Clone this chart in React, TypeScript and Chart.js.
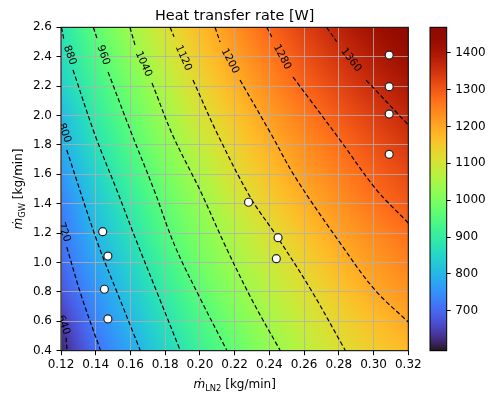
import React, { useEffect, useRef } from 'react';
import { Chart, registerables } from 'chart.js';
Chart.register(...registerables);

// ---------- data ----------
const X_TICKS = [0.12, 0.14, 0.16, 0.18, 0.2, 0.22, 0.24, 0.26, 0.28, 0.3, 0.32];
const Y_TICKS = [0.4, 0.6, 0.8, 1.0, 1.2, 1.4, 1.6, 1.8, 2.0, 2.2, 2.4, 2.6];
const CB_TICKS = [700, 800, 900, 1000, 1100, 1200, 1300, 1400];
const V_MIN = 592;
const V_MAX = 1469;

// heat field read at grid nodes (x = X_TICKS), one row per y in Y_TICKS
const Q_Y040 = [615, 708, 780, 850, 914, 971, 1024, 1069, 1112, 1144, 1174];
const Q_Y060 = [640, 732, 804, 873, 938, 995, 1047, 1090, 1131, 1166, 1201];
const Q_Y080 = [675, 754, 827, 897, 964, 1019, 1067, 1111, 1154, 1196, 1226];
const Q_Y100 = [700, 779, 851, 923, 988, 1044, 1089, 1135, 1180, 1216, 1247];
const Q_Y120 = [712, 803, 874, 949, 1008, 1062, 1113, 1161, 1205, 1238, 1271];
const Q_Y140 = [728, 824, 898, 970, 1029, 1089, 1142, 1188, 1228, 1266, 1298];
const Q_Y160 = [758, 847, 923, 991, 1054, 1115, 1166, 1212, 1250, 1287, 1318];
const Q_Y180 = [788, 872, 948, 1016, 1080, 1137, 1188, 1232, 1274, 1309, 1342];
const Q_Y200 = [804, 896, 971, 1040, 1104, 1160, 1212, 1257, 1298, 1333, 1368];
const Q_Y220 = [840, 920, 994, 1063, 1127, 1185, 1237, 1285, 1323, 1362, 1396];
const Q_Y240 = [860, 943, 1019, 1087, 1150, 1209, 1261, 1307, 1349, 1388, 1426];
const Q_Y260 = [877, 965, 1041, 1110, 1173, 1230, 1283, 1330, 1375, 1417, 1462];
const HEAT_ROWS = [Q_Y040, Q_Y060, Q_Y080, Q_Y100, Q_Y120, Q_Y140, Q_Y160, Q_Y180, Q_Y200, Q_Y220, Q_Y240, Q_Y260];

// contour levels and their traced paths ([x, y]; null = gap for the inline label)
const LEVELS = [640, 720, 800, 880, 960, 1040, 1120, 1200, 1280, 1360];
const C640 = [[0.1229, 0.489], [0.1235, 0.4]];
const C720 = [[0.1233, 1.105], [0.1321, 0.759], [0.1428, 0.4]];
const C800 = [[0.1233, 1.765], [0.1415, 1.119], [0.1522, 0.8], [0.1657, 0.4]];
const C880 = [[0.1203, 2.6], [0.1217, 2.514], null, [0.1269, 2.31], [0.1396, 1.867], [0.1521, 1.493], [0.1632, 1.153], [0.1759, 0.779], [0.1887, 0.4]];
const C960 = [[0.1386, 2.6], [0.1407, 2.527], null, [0.1471, 2.296], [0.1603, 1.888], [0.1736, 1.493], [0.1856, 1.112], [0.2006, 0.745], [0.2156, 0.4]];
const C1040 = [[0.1597, 2.6], [0.1626, 2.48], null, [0.1724, 2.221], [0.1845, 1.861], [0.2, 1.493], [0.2144, 1.119], [0.23, 0.745], [0.2463, 0.4]];
const C1120 = [[0.1828, 2.6], [0.1851, 2.536], null, [0.196, 2.241], [0.2104, 1.867], [0.2292, 1.44], [0.2446, 1.173], [0.264, 0.813], [0.2838, 0.4]];
const C1200 = [[0.2087, 2.6], [0.2116, 2.5], null, [0.2231, 2.241], [0.2413, 1.867], [0.2548, 1.582], [0.2807, 1.133], [0.3008, 0.813], [0.32, 0.595]];
const C1280 = [[0.2385, 2.6], [0.2414, 2.534], null, [0.2536, 2.262], [0.2807, 1.833], [0.3018, 1.493], [0.32, 1.269]];
const C1360 = [[0.273, 2.6], [0.2788, 2.502], null, [0.2957, 2.241], [0.32, 1.936]];
const CONTOURS = [C640, C720, C800, C880, C960, C1040, C1120, C1200, C1280, C1360];
const LABEL_X = [0.1214, 0.1217, 0.122, 0.125, 0.1443, 0.1675, 0.1905, 0.2173, 0.2473, 0.287];
const LABEL_Y = [0.575, 1.206, 1.881, 2.41, 2.411, 2.35, 2.391, 2.371, 2.398, 2.378];

// measured operating points
const RUN_X = [0.144, 0.147, 0.145, 0.147, 0.228, 0.245, 0.244, 0.309, 0.309, 0.309, 0.309];
const RUN_Y = [1.21, 1.044, 0.818, 0.616, 1.41, 1.169, 1.026, 2.411, 2.196, 2.01, 1.736];

const TITLE = 'Heat transfer rate [W]';
type Part = { t: string; italic?: boolean; sub?: boolean };
const X_TITLE: Part[] = [{ t: 'ṁ', italic: true }, { t: 'LN2', sub: true }, { t: ' [kg/min]' }];
const Y_TITLE: Part[] = [{ t: 'ṁ', italic: true }, { t: 'GW', sub: true }, { t: ' [kg/min]' }];

const FONT = '"DejaVu Sans"';

// ---------- helpers ----------
function turbo(t: number): [number, number, number] {
  t = Math.max(0, Math.min(1, t));
  const r = 0.13572138 + t * (4.6153926 + t * (-42.66032258 + t * (132.13108234 + t * (-152.94239396 + t * 59.28637943))));
  const g = 0.09140261 + t * (2.19418839 + t * (4.84296658 + t * (-14.18503333 + t * (4.27729857 + t * 2.82956604))));
  const b = 0.1066733 + t * (12.64194608 + t * (-60.58204836 + t * (110.36276771 + t * (-89.90310912 + t * 27.34824973))));
  const c = (v: number) => Math.max(0, Math.min(255, Math.round(v * 255)));
  return [c(r), c(g), c(b)];
}

function heatAt(vx: number, vy: number): number {
  const nx = X_TICKS.length, ny = Y_TICKS.length;
  const sx = X_TICKS[1] - X_TICKS[0], sy = Y_TICKS[1] - Y_TICKS[0];
  let fx = (vx - X_TICKS[0]) / sx; fx = Math.max(0, Math.min(nx - 1, fx));
  let fy = (vy - Y_TICKS[0]) / sy; fy = Math.max(0, Math.min(ny - 1, fy));
  const i0 = Math.min(nx - 2, Math.floor(fx)), j0 = Math.min(ny - 2, Math.floor(fy));
  const tx = fx - i0, ty = fy - j0;
  const a = HEAT_ROWS[j0][i0], b = HEAT_ROWS[j0][i0 + 1];
  const c = HEAT_ROWS[j0 + 1][i0], d = HEAT_ROWS[j0 + 1][i0 + 1];
  return (a * (1 - tx) + b * tx) * (1 - ty) + (c * (1 - tx) + d * tx) * ty;
}

function drawRich(ctx: CanvasRenderingContext2D, parts: Part[], size: number, x: number, y: number, rot: number) {
  ctx.save();
  ctx.translate(x, y);
  ctx.rotate(rot);
  const fonts = parts.map(p => `${p.italic ? 'italic ' : ''}${p.sub ? size * 0.7 : size}px ${FONT}`);
  let w = 0;
  const ws = parts.map((p, i) => { ctx.font = fonts[i]; const m = ctx.measureText(p.t).width; w += m; return m; });
  let cx = -w / 2;
  ctx.textBaseline = 'alphabetic';
  ctx.textAlign = 'left';
  ctx.fillStyle = '#000';
  parts.forEach((p, i) => { ctx.font = fonts[i]; ctx.fillText(p.t, cx, p.sub ? size * 0.24 : 0); cx += ws[i]; });
  ctx.restore();
}

const heatPlugin = {
  id: 'heat',
  beforeDraw(chart: any) {
    const { ctx, chartArea: a, scales } = chart;
    const xs = scales.x, ys = scales.y;
    const L = Math.round(a.left), T = Math.round(a.top);
    const W = Math.round(a.right) - L, H = Math.round(a.bottom) - T;
    const img = ctx.createImageData(W, H);
    for (let j = 0; j < H; j++) {
      const vy = ys.getValueForPixel(T + j + 0.5);
      for (let i = 0; i < W; i++) {
        const vx = xs.getValueForPixel(L + i + 0.5);
        const [r, g, b] = turbo((heatAt(vx, vy) - V_MIN) / (V_MAX - V_MIN));
        const k = (j * W + i) * 4;
        img.data[k] = r; img.data[k + 1] = g; img.data[k + 2] = b; img.data[k + 3] = 255;
      }
    }
    ctx.putImageData(img, L, T);
  },
};

const labelPlugin = {
  id: 'contourLabels',
  afterDatasetsDraw(chart: any) {
    const { ctx, chartArea: a, scales } = chart;
    const xs = scales.x, ys = scales.y;
    ctx.save();
    ctx.beginPath();
    ctx.rect(a.left, a.top, a.right - a.left, a.bottom - a.top);
    ctx.clip();
    ctx.font = `10.5px ${FONT}`;
    ctx.fillStyle = '#000';
    ctx.textAlign = 'center';
    ctx.textBaseline = 'middle';
    CONTOURS.forEach((pts: any[], k) => {
      const gi = pts.indexOf(null);
      const p = gi > 0 ? pts[gi - 1] : pts[0];
      const q = gi > 0 ? pts[gi + 1] : pts[1];
      let ang = Math.atan2(ys.getPixelForValue(q[1]) - ys.getPixelForValue(p[1]), xs.getPixelForValue(q[0]) - xs.getPixelForValue(p[0]));
      if (ang > Math.PI / 2) ang -= Math.PI;
      if (ang <= -Math.PI / 2) ang += Math.PI;
      ang = Math.min(ang, 1.22);
      ctx.save();
      ctx.translate(xs.getPixelForValue(LABEL_X[k]), ys.getPixelForValue(LABEL_Y[k]));
      ctx.rotate(ang);
      ctx.fillText(String(LEVELS[k]), 0, 0);
      ctx.restore();
    });
    ctx.restore();
  },
};

const framePlugin = {
  id: 'frameTitles',
  afterDraw(chart: any) {
    const { ctx, chartArea: a } = chart;
    ctx.save();
    ctx.strokeStyle = '#000';
    ctx.lineWidth = 1;
    ctx.strokeRect(a.left, a.top, a.right - a.left, a.bottom - a.top);
    ctx.font = `14.4px ${FONT}`;
    ctx.fillStyle = '#000';
    ctx.textAlign = 'center';
    ctx.textBaseline = 'alphabetic';
    ctx.fillText(TITLE, (a.left + a.right) / 2, 20);
    ctx.restore();
    drawRich(ctx, X_TITLE, 12, (a.left + a.right) / 2, 388, 0);
    drawRich(ctx, Y_TITLE, 12, 22, (a.top + a.bottom) / 2, -Math.PI / 2);
  },
};

const cbPlugin = {
  id: 'colorbar',
  beforeDraw(chart: any) {
    const { ctx, chartArea: a, scales } = chart;
    const ys = scales.y;
    for (let py = Math.floor(a.top); py < Math.ceil(a.bottom); py++) {
      const v = ys.getValueForPixel(py + 0.5);
      const [r, g, b] = turbo((v - V_MIN) / (V_MAX - V_MIN));
      ctx.fillStyle = `rgb(${r},${g},${b})`;
      ctx.fillRect(a.left, py, a.right - a.left, 1);
    }
  },
  afterDraw(chart: any) {
    const { ctx, chartArea: a } = chart;
    ctx.save();
    ctx.strokeStyle = '#000';
    ctx.lineWidth = 1;
    ctx.strokeRect(a.left, a.top, a.right - a.left, a.bottom - a.top);
    ctx.restore();
  },
};

export default function App() {
  const mainRef = useRef<HTMLCanvasElement>(null);
  const cbRef = useRef<HTMLCanvasElement>(null);

  useEffect(() => {
    document.body.style.margin = '0';
    const tickFont = { family: 'DejaVu Sans', size: 12 };
    const contourSets = CONTOURS.map((pts: any[], k) => {
      let lastX = 0;
      const data = pts.map(p => {
        if (p) { lastX = p[0]; return { x: p[0], y: p[1] }; }
        return { x: lastX, y: null };
      });
      return {
        type: 'line' as const,
        label: String(LEVELS[k]),
        data,
        borderColor: '#000',
        borderWidth: 1.2,
        borderDash: [4.5, 2.5],
        pointRadius: 0,
        tension: 0.35,
        fill: false,
        spanGaps: false,
        order: 2,
      };
    });
    const runs = {
      type: 'scatter' as const,
      label: 'runs',
      data: RUN_X.map((x, i) => ({ x, y: RUN_Y[i] })),
      pointRadius: 4,
      pointBackgroundColor: '#ffffff',
      pointBorderColor: '#222222',
      pointBorderWidth: 1.2,
      order: 0,
    };
    const main = new Chart(mainRef.current!, {
      type: 'scatter',
      data: { datasets: [runs as any, ...(contourSets as any[])] },
      plugins: [heatPlugin, labelPlugin, framePlugin],
      options: {
        responsive: false,
        animation: false,
        events: [],
        layout: { padding: { left: 0, right: 83.7, top: 27.3, bottom: 0 } },
        plugins: { legend: { display: false }, title: { display: false }, tooltip: { enabled: false } },
        scales: {
          x: {
            type: 'linear', min: 0.12, max: 0.32,
            afterBuildTicks: (s: any) => { s.ticks = X_TICKS.map(v => ({ value: v })); },
            afterFit: (s: any) => { s.height = 44.3; },
            ticks: { callback: (v: any) => Number(v).toFixed(2), font: tickFont, color: '#000', padding: 2, maxRotation: 0, autoSkip: false },
            grid: { color: '#b0b0b0', lineWidth: 0.8, tickColor: '#000', tickLength: 4.5, tickWidth: 1 },
            border: { display: false },
          },
          y: {
            type: 'linear', min: 0.4, max: 2.6,
            afterBuildTicks: (s: any) => { s.ticks = Y_TICKS.map(v => ({ value: v })); },
            afterFit: (s: any) => { s.width = 61; },
            ticks: { callback: (v: any) => Number(v).toFixed(1), font: tickFont, color: '#000', padding: 4.5, autoSkip: false },
            grid: { color: '#b0b0b0', lineWidth: 0.8, tickColor: '#000', tickLength: 4.5, tickWidth: 1 },
            border: { display: false },
          },
        },
      } as any,
    });
    const cb = new Chart(cbRef.current!, {
      type: 'scatter',
      data: { datasets: [] },
      plugins: [cbPlugin],
      options: {
        responsive: false,
        animation: false,
        events: [],
        layout: { padding: { left: 10, right: 0, top: 27.3, bottom: 44.3 } },
        plugins: { legend: { display: false }, title: { display: false }, tooltip: { enabled: false } },
        scales: {
          x: { type: 'linear', display: false, min: 0, max: 1 },
          y: {
            type: 'linear', position: 'right', min: V_MIN, max: V_MAX,
            afterBuildTicks: (s: any) => { s.ticks = CB_TICKS.map(v => ({ value: v })); },
            afterFit: (s: any) => { s.width = 45.3; },
            ticks: { font: tickFont, color: '#000', padding: 4.5, autoSkip: false, callback: (v: any) => String(v) },
            grid: { drawOnChartArea: false, tickColor: '#000', tickLength: 4, tickWidth: 1 },
            border: { display: false },
          },
        },
      } as any,
    });
    return () => { main.destroy(); cb.destroy(); };
  }, []);

  return (
    <div style={{ position: 'relative', width: 492, height: 395, background: '#fff' }}>
      <canvas ref={mainRef} width={492} height={395} style={{ position: 'absolute', left: 0, top: 0 }} />
      <canvas ref={cbRef} width={72} height={395} style={{ position: 'absolute', left: 420, top: 0 }} />
    </div>
  );
}
